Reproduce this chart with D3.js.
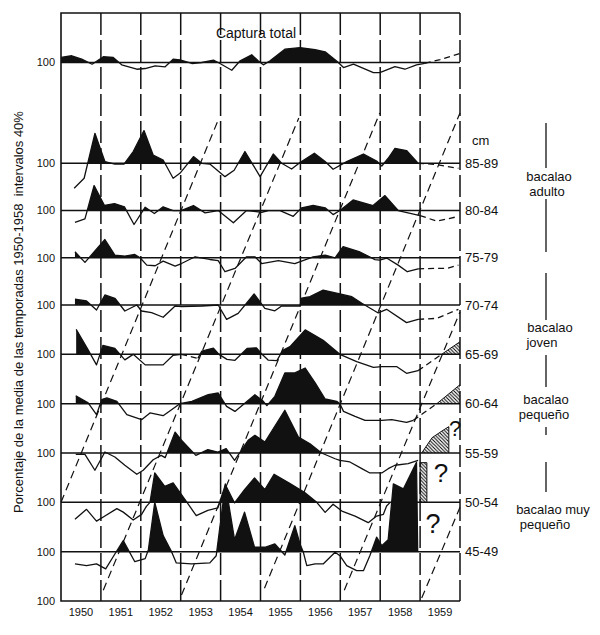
<!DOCTYPE html>
<html><head><meta charset="utf-8">
<script src="https://cdn.jsdelivr.net/npm/d3@7/dist/d3.min.js"></script>
<style>
body{margin:0;background:#fff}
svg{display:block}
text{font-family:"Liberation Sans",Arial,Helvetica,sans-serif;fill:#111}
</style>
</head><body>
<svg id="c" width="600" height="635"></svg>
<script>
// ---------------- DATA ----------------
const yearLabels = [1950,1951,1952,1953,1954,1955,1956,1957,1958,1959];
const yearBoundaries = [1951,1952,1953,1954,1955,1956,1957,1958,1959];
const tickRows = [0,1,2,3,4,5,6,7,8,9,11];
const tickLabel = "100";
const sizeClasses = ["85-89","80-84","75-79","70-74","65-69","60-64","55-59","50-54","45-49"];
const sizeRows = [9,8,7,6,5,4,3,2,1];
const groupLabels = [["bacalao","adulto"],["bacalao","joven"],["bacalao","pequeño"],["bacalao muy","pequeño"]];
const titleTop = "Captura total";
const yTitle = "Porcentaje de la media de las temporadas 1950-1958\u00a0\u00a0intervalos 40%";

// series: [year, % of mean]
const capturaTotal = [[1950.00,104.1],[1950.27,105.5],[1950.52,102.7],[1950.78,98.6],[1951.06,104.7],[1951.31,104.1],[1951.52,98.1],[1951.90,94.5],[1952.11,95.1],[1952.36,97.3],[1952.61,96.5],[1952.81,102.7],[1952.98,102.2],[1953.28,99.2],[1953.53,100],[1953.82,101.9],[1953.94,100],[1954.28,93.7],[1954.49,101.4],[1954.78,106.3],[1954.94,101.4],[1955.07,98.1],[1955.24,101.4],[1955.61,110.9],[1955.99,112.2],[1956.37,110.4],[1956.62,108.7],[1956.93,100.6],[1957.08,95.9],[1957.33,98.6],[1957.83,91.8],[1957.99,91.8],[1958.37,96.7],[1958.62,94.5],[1958.91,98.1],[1959.12,99.2]];
const capturaExt = [[1959.12,99.2],[1959.50,102.4],[1960.00,107.3]];

const c8589 = [[1950.33,79.6],[1950.58,87.8],[1950.85,124.5],[1951.10,101.4],[1951.35,99.4],[1951.58,99.4],[1951.81,109.6],[1952.08,126.7],[1952.31,106.8],[1952.56,102.7],[1952.81,87.8],[1952.98,91.8],[1953.32,105.5],[1953.53,100],[1953.73,99.4],[1954.11,89.1],[1954.34,94.3],[1954.61,109.6],[1954.99,89.1],[1955.32,107.6],[1955.53,100],[1955.78,95.3],[1955.99,100.6],[1956.35,108.2],[1956.62,101.4],[1956.82,95.1],[1957.16,101.4],[1957.58,107.6],[1957.91,101.9],[1958.04,97.8],[1958.20,104.1],[1958.37,112.2],[1958.66,110.4],[1958.95,100]];
const c8589Ext = [[1958.95,100],[1959.37,99.2],[1959.96,95.9]];

const c8084 = [[1950.35,90.4],[1950.60,93.2],[1950.83,120.4],[1951.09,104.1],[1951.34,105.7],[1951.59,103],[1951.83,88.6],[1952.11,102.7],[1952.34,97.6],[1952.56,103],[1952.81,100],[1953.01,100],[1953.32,104.1],[1953.61,98.1],[1953.94,100],[1954.32,90],[1954.65,100],[1955.03,98.6],[1955.20,100],[1955.49,100],[1955.82,95.3],[1956.03,102.2],[1956.32,104.1],[1956.62,102.2],[1956.82,96.7],[1956.99,100],[1957.32,108.6],[1957.82,104.1],[1958.12,112.2],[1958.45,100],[1959.00,95.9]];
const c8084Ext = [[1959.00,95.9],[1959.42,91.3],[1959.95,95.1]];

const c7579 = [[1950.35,104.9],[1950.60,96.2],[1951.10,114.9],[1951.35,102.2],[1951.60,101.4],[1951.85,102.7],[1951.98,100],[1952.15,94],[1952.36,93.5],[1952.56,97.3],[1952.86,93.2],[1953.02,95.3],[1953.36,100.8],[1953.73,98.6],[1953.94,97.6],[1954.11,88.6],[1954.36,91.3],[1954.65,100.8],[1954.86,100.8],[1955.03,95.3],[1955.45,97.6],[1955.86,95.3],[1956.32,100.8],[1956.62,102.2],[1956.87,100],[1957.07,109],[1957.47,105.1],[1957.87,98.5],[1957.99,98.1],[1958.16,99.8],[1958.45,94],[1958.68,88.6],[1958.95,91]];
const c7579Ext = [[1958.95,91],[1959.37,91.3],[1959.67,91.3],[1959.96,94]];

const c7074 = [[1950.35,104.7],[1950.64,103.3],[1950.89,95.9],[1951.10,108.2],[1951.35,105.5],[1951.60,95.1],[1951.90,100],[1952.02,95.1],[1952.27,93.7],[1952.56,90],[1952.86,99.2],[1953.02,98.6],[1953.53,99.2],[1953.94,100],[1954.15,88.3],[1954.44,93.2],[1954.84,109],[1955.11,97.3],[1955.36,95.3],[1955.53,99.2],[1955.99,99.2],[1956.03,105.5],[1956.24,106.8],[1956.57,112.2],[1956.99,109],[1957.29,106.8],[1957.54,101.4],[1957.95,93.5],[1958.16,96.5],[1958.66,85.6],[1958.95,88.3]];
const c7074Ext = [[1958.95,88.3],[1959.42,89.1],[1959.96,96.5]];

const c6569a = [[1950.38,120.4],[1950.68,103.7],[1950.89,91.4],[1951.05,107.3],[1951.35,104.9],[1951.60,95.5],[1951.81,100],[1952.11,91.4],[1952.56,91.4],[1952.81,99.2],[1953.01,100]];
const c6569gap = [[1953.01,100],[1953.43,96.7]];
const c6569b = [[1953.43,96.7],[1953.53,102.7],[1953.82,105.1],[1953.96,100],[1954.16,95.9],[1954.36,95.1],[1954.67,104.9],[1954.90,105.3],[1955.04,100],[1955.19,95.3],[1955.41,94.9],[1955.56,103.3],[1955.74,106.3],[1956.12,120],[1956.57,111.4],[1956.99,100],[1957.41,94],[1957.83,89.4],[1958.04,90],[1958.41,90],[1958.66,84.5],[1958.95,86.7]];
const c6569Ext = [[1958.95,86.7],[1959.54,100]];
const c6569Hatch = [[1959.54,100],[1960,110.3]];

const c6064 = [[1950.37,106.5],[1950.68,100.6],[1950.89,91],[1951.02,103.3],[1951.15,104.7],[1951.40,101.9],[1951.65,91],[1952.02,86.9],[1952.23,92.4],[1952.56,90.2],[1952.98,100],[1953.28,101.9],[1953.69,107.3],[1953.94,108.7],[1954.15,97.8],[1954.36,93.7],[1954.86,107.3],[1955.07,101.9],[1955.16,98.4],[1955.36,106],[1955.61,125.1],[1955.86,125.1],[1956.12,129.1],[1956.37,116.9],[1956.62,103.8],[1956.91,101.9],[1956.99,100],[1957.08,93.7],[1957.37,89.6],[1957.62,86.4],[1958.04,86.4],[1958.29,86.9],[1958.66,84.7],[1958.83,86.4]];
const c6064Ext = [[1958.83,86.4],[1959.42,100]];
const c6064Hatch = [[1959.42,100],[1960,115.5]];

const c5559 = [[1950.37,98.9],[1950.60,98.9],[1950.85,85.9],[1951.10,100.8],[1951.35,96.7],[1951.60,90],[1951.90,82.6],[1952.06,85.9],[1952.31,94.5],[1952.51,98.1],[1952.61,96.2],[1952.86,117.1],[1953.02,110.4],[1953.38,98.1],[1953.68,102.8],[1953.93,100.8],[1954.14,103.6],[1954.35,94],[1954.69,110.4],[1954.86,114.4],[1955.11,109],[1955.61,134.9],[1955.95,113.1],[1956.24,107.6],[1956.53,100],[1956.87,95.3],[1956.99,94],[1957.24,92.7],[1957.54,87.2],[1957.74,83.7],[1958.04,83.7],[1958.20,87.2],[1958.37,90],[1958.70,91.3],[1958.95,94]];
const c5559Hatch = [[1959.04,100],[1959.30,112.5],[1959.55,118],[1959.72,121.5],[1959.72,100]];

const c5054 = [[1950.35,86.1],[1950.64,94.3],[1950.89,84.7],[1951.10,88.8],[1951.40,94.9],[1951.56,92],[1951.81,85.6],[1952.02,90.2],[1952.14,96.7],[1952.23,100],[1952.35,124],[1952.60,113.1],[1952.81,115.8],[1953.14,100.8],[1953.31,92.9],[1953.39,89.1],[1953.68,93.5],[1953.93,95.4],[1954.12,114.4],[1954.35,99.5],[1954.60,110.4],[1954.85,119.9],[1955.11,110.4],[1955.34,122.9],[1955.73,115.5],[1956.10,108.2],[1956.41,100],[1956.62,91.8],[1956.82,98.4],[1957.04,92.9],[1957.37,88.8],[1957.70,83.4],[1957.91,88.8],[1958.08,90.2],[1958.16,97],[1958.25,100]];
const c5054Hatch = [[1959.0,100],[1959.0,132.4],[1959.17,132.4],[1959.17,100]];

const c4549 = [[1950.35,90],[1950.64,88.6],[1950.89,90],[1951.12,85.9],[1951.35,98.1],[1951.56,109],[1951.85,91.8],[1952.11,94.3],[1952.19,101.6],[1952.35,140.3],[1952.56,113.1],[1952.76,100.8],[1952.89,90.8],[1953.27,90],[1953.73,90.8],[1953.89,96.7],[1954.12,155.3],[1954.35,109.8],[1954.60,132.2],[1954.85,103.6],[1955.11,103.6],[1955.36,106.3],[1955.61,97.3],[1955.86,121.2],[1955.99,106.3],[1956.07,100],[1956.16,88.6],[1956.37,90],[1956.57,90],[1956.87,99.5],[1956.99,96.7],[1957.16,88.6],[1957.41,84.5],[1957.58,84.5],[1957.74,96.7],[1957.91,111.8],[1958.04,104.9],[1958.20,109.8],[1958.33,155.3],[1958.58,151.2],[1958.91,173],[1958.94,100]];

// cohort (year-class) tracking lines: [year, row]
const cohortStart = [[1950.0,2.0],[1951.06,0.22],[1953.02,0.12],[1955.1,0.26],[1957.1,0.22],[1959.04,0.06]];
const cohortEnd   = [[1953.94,9.86],[1955.96,9.9],[1957.99,10.0],[1960,10.0],[1960,5.86],[1960,1.9]];

// ---------------- DRAW ----------------
const svg = d3.select("#c");
svg.append("rect").attr("width",600).attr("height",635).attr("fill","#fff");
const defs = svg.append("defs");
const pat = defs.append("pattern").attr("id","hatch").attr("patternUnits","userSpaceOnUse").attr("width",3.5).attr("height",3.5);
pat.append("path").attr("d","M-1,-1L4.5,4.5M2.5,-1L4.5,1M-1,2.5L1,4.5").attr("stroke","#000").attr("stroke-width",1);

const x = d3.scaleLinear().domain([1950,1960]).range([61,460]);
const rowY = d3.scaleLinear().domain([0,6,9,11]).range([601,305,163.3,62.5]);
const dv = d3.scaleLinear().domain([100,140]).range([0,-49]);

const ink = "#111";
const g = svg.append("g");

// year boundary lines
g.selectAll(".yr").data(yearBoundaries).enter().append("line")
  .attr("x1",d=>x(d)).attr("x2",d=>x(d)).attr("y1",rowY(11)-49.5).attr("y2",rowY(0))
  .attr("stroke",ink).attr("stroke-width",1.5).attr("stroke-dasharray","22,5");
// right edge dashed
g.append("line").attr("x1",x(1960)).attr("x2",x(1960)).attr("y1",rowY(11)-49.5).attr("y2",rowY(0))
  .attr("stroke",ink).attr("stroke-width",1.5).attr("stroke-dasharray","22,5");

// cohort lines
g.selectAll(".coh").data(cohortStart).enter().append("line")
  .attr("x1",d=>x(d[0])).attr("y1",d=>rowY(d[1]))
  .attr("x2",(d,i)=>x(cohortEnd[i][0])).attr("y2",(d,i)=>rowY(cohortEnd[i][1]))
  .attr("stroke",ink).attr("stroke-width",1.2).attr("stroke-dasharray","8,5");

// frame: top, left, bottom
g.append("path").attr("d",`M${x(1960)},${rowY(11)-49.5}H${x(1950)}V${rowY(0)}H${x(1960)}`)
  .attr("fill","none").attr("stroke",ink).attr("stroke-width",1.6);

// baselines
g.selectAll(".base").data(tickRows.filter(r=>r>0)).enter().append("line")
  .attr("x1",x(1950)).attr("x2",x(1960)).attr("y1",d=>rowY(d)).attr("y2",d=>rowY(d))
  .attr("stroke",ink).attr("stroke-width",1.5);

const seriesList = [
  {row:11, solid:[capturaTotal], dashed:[capturaExt]},
  {row:9, solid:[c8589], dashed:[c8589Ext]},
  {row:8, solid:[c8084], dashed:[c8084Ext]},
  {row:7, solid:[c7579], dashed:[c7579Ext]},
  {row:6, solid:[c7074], dashed:[c7074Ext]},
  {row:5, solid:[c6569a,c6569b], dashed:[c6569gap,c6569Ext], hatch:c6569Hatch},
  {row:4, solid:[c6064], dashed:[c6064Ext], hatch:c6064Hatch},
  {row:3, solid:[c5559], dashed:[], hatch:c5559Hatch},
  {row:2, solid:[c5054], dashed:[], hatch:c5054Hatch},
  {row:1, solid:[c4549], dashed:[]}
];

function withCrossings(pts){
  const out=[];
  for(let i=0;i<pts.length;i++){
    const a=pts[i]; out.push(a);
    const b=pts[i+1];
    if(b && (a[1]-100)*(b[1]-100)<0){
      const f=(100-a[1])/(b[1]-a[1]);
      out.push([a[0]+f*(b[0]-a[0]),100]);
    }
  }
  return out;
}

seriesList.forEach(s=>{
  const base = rowY(s.row);
  const line = d3.line().x(d=>x(d[0])).y(d=>base+dv(d[1]));
  const area = d3.area().x(d=>x(d[0])).y0(base).y1(d=>base+dv(Math.max(100,d[1])));
  const sg = g.append("g");
  s.solid.forEach(p=>{
    sg.append("path").attr("d",area(withCrossings(p))).attr("fill",ink);
  });
  if(s.hatch){
    const ha = d3.area().x(d=>x(d[0])).y0(base).y1(d=>base+dv(d[1]));
    sg.append("path").attr("d",ha(s.hatch)).attr("fill","url(#hatch)");
    sg.append("path").attr("d",line(s.hatch)).attr("fill","none").attr("stroke",ink).attr("stroke-width",1);
  }
  s.solid.forEach(p=>{
    sg.append("path").attr("d",line(p)).attr("fill","none").attr("stroke",ink)
      .attr("stroke-width",1.3).attr("stroke-linejoin","round");
  });
  s.dashed.forEach(p=>{
    sg.append("path").attr("d",line(p)).attr("fill","none").attr("stroke",ink)
      .attr("stroke-width",1.3).attr("stroke-dasharray","6,4");
  });
});

// left "100" labels
g.selectAll(".tl").data(tickRows).enter().append("text")
  .attr("x",55).attr("y",d=>rowY(d)).attr("dy","0.36em").attr("text-anchor","end")
  .attr("font-size",11).text(tickLabel);

// year labels
g.selectAll(".yl").data(yearLabels).enter().append("text")
  .attr("x",d=>x(d+0.5)).attr("y",616).attr("text-anchor","middle")
  .attr("font-size",11).text(d=>d);

// title
g.append("text").attr("x",256).attr("y",38).attr("text-anchor","middle").attr("font-size",14).text(titleTop);

// y title
g.append("text").attr("transform","translate(23,312) rotate(-90)").attr("text-anchor","middle")
  .attr("font-size",13).text(yTitle);

// size class labels
g.append("text").attr("x",472).attr("y",145).attr("font-size",13).text("cm");
g.selectAll(".sl").data(sizeClasses).enter().append("text")
  .attr("x",465).attr("y",(d,i)=>rowY(sizeRows[i])).attr("dy","0.36em")
  .attr("font-size",13).text(d=>d);

// group labels
const glPos = [[[549,180.5],[547,195.5]],[[550,331.5],[542,346.5]],[[546,404],[544,419]],[[553,514],[545,529]]];
groupLabels.forEach((lines,i)=>{
  lines.forEach((t,j)=>{
    g.append("text").attr("x",glPos[i][j][0]).attr("y",glPos[i][j][1]).attr("text-anchor","middle")
      .attr("font-size",13).text(t);
  });
});
const sepSegs = [[123,168],[199,252],[273,320],[355,387],[427,435],[462,492]];
g.selectAll(".sep").data(sepSegs).enter().append("line")
  .attr("x1",546).attr("x2",546).attr("y1",d=>d[0]).attr("y2",d=>d[1])
  .attr("stroke",ink).attr("stroke-width",1.3);

// question marks
[[455,436,22],[441,482,26],[433,533,27]].forEach(q=>{
  g.append("text").attr("x",q[0]).attr("y",q[1]).attr("text-anchor","middle")
    .attr("font-size",q[2]).text("?");
});
</script>
</body></html>
